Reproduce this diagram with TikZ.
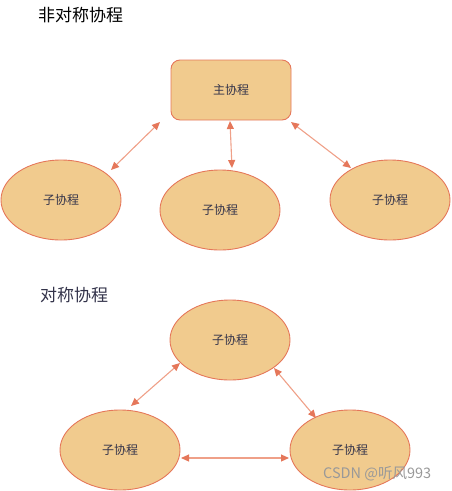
\documentclass[tikz,border=0pt]{standalone}
\usepackage{fontspec}
\setmainfont{Noto Sans CJK SC}
\usetikzlibrary{arrows.meta,shapes.geometric}
\definecolor{fillc}{HTML}{F1CB8E}
\definecolor{strokec}{HTML}{E5775A}
\definecolor{linec}{HTML}{EFA088}
\definecolor{txtc}{HTML}{33334A}
\begin{document}
\begin{tikzpicture}[x=1pt,y=-1pt,
  proc/.style={draw=strokec,fill=fillc,line width=0.9pt,ellipse,minimum width=120pt,minimum height=80pt,inner sep=0pt,text=txtc,font=\fontsize{12}{12}\selectfont},
  mainbox/.style={draw=strokec,fill=fillc,line width=0.9pt,rounded corners=9pt,minimum width=120pt,minimum height=60pt,inner sep=0pt,text=txtc,font=\fontsize{12}{12}\selectfont},
  link/.style={draw=linec,line width=1.1pt,{Triangle[length=8pt,width=7pt,color=strokec]}-{Triangle[length=8pt,width=7pt,color=strokec]}},
  title/.style={font=\fontsize{17}{17}\selectfont,anchor=west,inner sep=0pt}]
\useasboundingbox (0,0) rectangle (451,491);
\node[title,text=black] (t1) at (38,15) {非对称协程};
\node[mainbox] (main) at (231,90) {主协程};
\node[proc] (a) at (61,200) {子协程};
\node[proc] (b) at (220,210) {子协程};
\node[proc] (c) at (390,200) {子协程};
\coordinate (a1) at (111,170); \coordinate (m1) at (160,122);
\coordinate (b1) at (232,168); \coordinate (m2) at (230,121);
\coordinate (c1) at (351,168); \coordinate (m3) at (291,122);
\draw[link] (a1) -- (m1);
\draw[link] (m2) -- (b1);
\draw[link] (m3) -- (c1);
\node[title,text=txtc] (t2) at (40,295) {对称协程};
\node[proc] (p) at (230,340) {子协程};
\node[proc] (q) at (120,450) {子协程};
\node[proc] (r) at (350,450) {子协程};
\coordinate (q1) at (131,406); \coordinate (p1) at (180,363);
\coordinate (p2) at (274,368); \coordinate (r1) at (316,418);
\coordinate (q2) at (181,458); \coordinate (r2) at (289,458);
\draw[link] (q1) -- (p1);
\draw[link] (p2) -- (r1);
\draw[link] (q2) -- (r2);
\node[font=\fontsize{14.5}{15}\selectfont,text=black!40,anchor=west,inner sep=0pt] (wm) at (323,474) {CSDN @听风993};
\end{tikzpicture}
\end{document}
